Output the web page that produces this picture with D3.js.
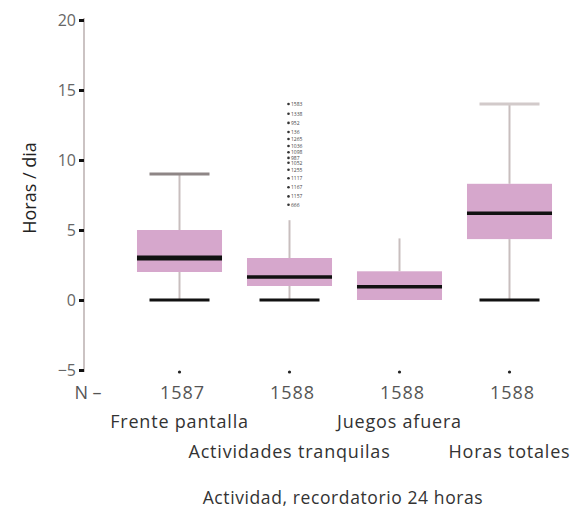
<!DOCTYPE html>
<html><head><meta charset="utf-8">
<script src="https://cdn.jsdelivr.net/npm/d3@7"></script>
<style>body{margin:0;background:#fff}svg{display:block}text{font-family:"Open Sans",sans-serif}</style>
</head><body><svg id="c" width="588" height="512"></svg>
<script>
const categories = ["Frente pantalla","Actividades tranquilas","Juegos afuera","Horas totales"];
const counts = ["1587","1588","1588","1588"];
const whiskerLow = [0,0,0,0];
const q1 = [2,1,0,4.35];
const median = [3,1.65,0.95,6.2];
const q3 = [5,3,2.05,8.3];
const whiskerHigh = [9,5.7,4.4,14];
const outlierValues = [14.0,13.3,12.65,12.0,11.5,11.0,10.55,10.15,9.8,9.3,8.7,8.05,7.4,6.8];
const outlierLabels = ["1583","1338","952","136","1265","1036","1098","987","1052","1255","1117","1167","1157","666"];
const yTicks = [-5,0,5,10,15,20];

// styles (not data)
const topCapColor = ["#8e8686", null, null, "#d2caca"];
const medianWidth = [5, 3.5, 3.5, 3.5];

const svg = d3.select("#c");
const y = d3.scaleLinear().domain([-5,20]).range([370,20]);
const x = d3.scaleBand().domain(categories).range([124.5,564.5]).paddingInner(0.227).paddingOuter(0.1135);
const cx = c => x(c) + x.bandwidth()/2;
const capW = 60;

// y axis
const yAxis = d3.axisLeft(y).tickValues(yTicks).tickSize(5).tickPadding(3).tickFormat(d3.format("d"));
const ga = svg.append("g").attr("transform","translate(84,0)").call(yAxis);
ga.select(".domain").attr("stroke","#cbc3c3").attr("stroke-width",2).attr("d","M0,18V372");
ga.selectAll(".tick line").attr("stroke","#111").attr("stroke-width",3);
ga.selectAll(".tick text").attr("fill","#666").attr("font-size",16).attr("dy","0.35em");

// boxes
const g = svg.append("g");
categories.forEach((c,i)=>{
  const xc = cx(c);
  g.append("line").attr("x1",xc).attr("x2",xc).attr("y1",y(whiskerHigh[i])).attr("y2",y(q3[i])).attr("stroke","#c8bebe").attr("stroke-width",2);
  g.append("line").attr("x1",xc).attr("x2",xc).attr("y1",y(q1[i])).attr("y2",y(whiskerLow[i])).attr("stroke","#c8bebe").attr("stroke-width",2);
  g.append("rect").attr("x",x(c)).attr("width",x.bandwidth()).attr("y",y(q3[i])).attr("height",y(q1[i])-y(q3[i])).attr("fill","#d6a7cc");
  g.append("line").attr("x1",x(c)).attr("x2",x(c)+x.bandwidth()).attr("y1",y(median[i])).attr("y2",y(median[i])).attr("stroke","#111").attr("stroke-width",medianWidth[i]);
  if (topCapColor[i])
    g.append("line").attr("x1",xc-capW/2).attr("x2",xc+capW/2).attr("y1",y(whiskerHigh[i])).attr("y2",y(whiskerHigh[i])).attr("stroke",topCapColor[i]).attr("stroke-width",3);
  if (q1[i] > whiskerLow[i])
    g.append("line").attr("x1",xc-capW/2).attr("x2",xc+capW/2).attr("y1",y(whiskerLow[i])).attr("y2",y(whiskerLow[i])).attr("stroke","#111").attr("stroke-width",3);
  g.append("circle").attr("cx",xc).attr("cy",372).attr("r",1.6).attr("fill","#222");
  g.append("text").attr("x",xc+3).attr("y",393).attr("dy","0.35em").attr("text-anchor","middle").attr("font-size",18).attr("letter-spacing",1).attr("fill","#555").text(counts[i]);
  g.append("text").attr("x",xc).attr("y",i%2===0?422:452).attr("dy","0.35em").attr("text-anchor","middle").attr("font-size",18).attr("letter-spacing",0.8).attr("fill","#333").text(c);
});

// outliers of Actividades tranquilas
const oc = cx(categories[1]);
const og = svg.append("g");
outlierValues.forEach((v,k)=>{
  og.append("circle").attr("cx",oc-1).attr("cy",y(v)).attr("r",1.3).attr("fill","#333");
  og.append("text").attr("x",oc+1.5).attr("y",y(v)).attr("dy","0.35em").attr("font-size",5).attr("fill","#444").text(outlierLabels[k]);
});

svg.append("text").attr("x",88).attr("y",393).attr("dy","0.35em").attr("text-anchor","middle").attr("font-size",18).attr("fill","#555").text("N –");
svg.append("text").attr("x",343).attr("y",498).attr("dy","0.35em").attr("text-anchor","middle").attr("font-size",17.5).attr("letter-spacing",0.6).attr("fill","#333").text("Actividad, recordatorio 24 horas");
svg.append("text").attr("transform","translate(30,188) rotate(-90)").attr("dy","0.35em").attr("text-anchor","middle").attr("font-size",18).attr("fill","#222").text("Horas / dia");
</script></body></html>
